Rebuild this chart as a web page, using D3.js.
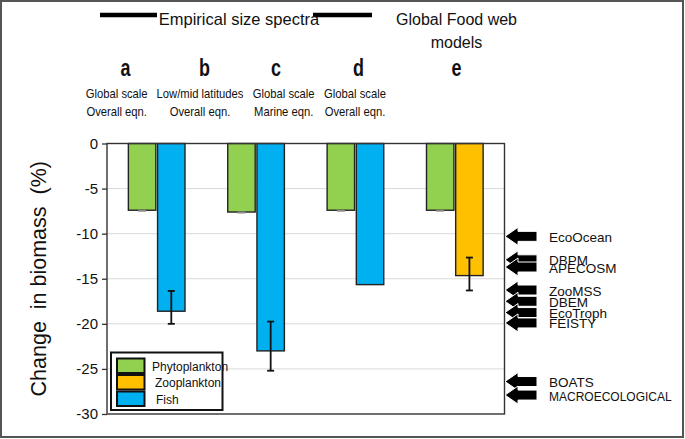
<!DOCTYPE html>
<html>
<head>
<meta charset="utf-8">
<script src="https://cdn.jsdelivr.net/npm/d3@7"></script>
<style>
  body { margin: 0; background: #fff; }
  svg { display: block; font-family: "Liberation Sans", Arial, sans-serif; }
</style>
</head>
<body>
<svg id="chart" width="685" height="439"></svg>
<script>
// --- DATEN ---
const groups = ['a', 'b', 'c', 'd'];
const groupLine1 = ['Global scale', 'Low/mid latitudes', 'Global scale', 'Global scale'];
const groupLine2 = ['Overall eqn.', 'Overall eqn.', 'Marine eqn.', 'Overall eqn.'];
const phytoValues = [-7.4, -7.6, -7.4, -7.4];
const secondValues = [-18.6, -23.0, -15.65, -14.65];
const secondKind = ['Fish', 'Fish', 'Fish', 'Zooplankton'];
const secondErrHigh = [-16.35, -19.75, null, -12.65];
const secondErrLow = [-20.0, -25.2, null, -16.3];
const yTicks = [0, -5, -10, -15, -20, -25, -30];
const legendItems = ['Phytoplankton', 'Zooplankton', 'Fish'];
const modelNames = ['EcoOcean', 'DBPM', 'APECOSM', 'ZooMSS', 'DBEM', 'EcoTroph', 'FEISTY', 'BOATS', 'MACROECOLOGICAL'];
const modelValues = [-10.3, -12.9, -13.7, -16.25, -17.5, -18.75, -19.9, -26.4, -27.9];

const colors = { Phytoplankton: '#92d050', Zooplankton: '#ffc000', Fish: '#00b0f0' };

// --- LAYOUT ---
const plot = { left: 107, right: 504.5, top: 143.5, bottom: 414 };
const svg = d3.select('#chart');

svg.append('rect')
  .attr('x', 1).attr('y', 1).attr('width', 682).attr('height', 436)
  .attr('fill', 'none').attr('stroke', '#555').attr('stroke-width', 2);

const x = d3.scaleBand().domain(groups).range([plot.left, plot.right])
  .paddingInner(0.43).paddingOuter(0.215);
const xs = d3.scaleBand().domain([0, 1]).range([0, x.bandwidth()]).paddingInner(0.06);
const y = d3.scaleLinear().domain([0, -30]).range([plot.top, plot.bottom]);

// Gitterlinien
svg.append('g')
  .selectAll('line')
  .data(yTicks.filter(t => t !== 0 && t !== -30))
  .join('line')
  .attr('x1', plot.left).attr('x2', plot.right)
  .attr('y1', d => y(d)).attr('y2', d => y(d))
  .attr('stroke', '#d9d9d9').attr('stroke-width', 1);

// Y-Achse
const yAxis = svg.append('g')
  .attr('transform', `translate(${plot.left},0)`)
  .call(d3.axisLeft(y).tickValues(yTicks).tickSize(5).tickPadding(4).tickFormat(d3.format('d')));
yAxis.select('.domain').remove();
yAxis.selectAll('.tick line').attr('stroke', '#333').attr('stroke-width', 1.3);
yAxis.selectAll('.tick text')
  .attr('font-size', 15).attr('fill', '#111')
  .attr('font-family', '"Liberation Sans", Arial, sans-serif')
  .text(d => d === 0 ? '0' : String(d));

// Balken
const bars = [];
groups.forEach((g, i) => {
  bars.push({ g, slot: 0, value: phytoValues[i], kind: 'Phytoplankton' });
  bars.push({ g, slot: 1, value: secondValues[i], kind: secondKind[i], hi: secondErrHigh[i], lo: secondErrLow[i] });
});

svg.append('g')
  .selectAll('rect')
  .data(bars)
  .join('rect')
  .attr('x', d => x(d.g) + xs(d.slot))
  .attr('y', y(0))
  .attr('width', xs.bandwidth())
  .attr('height', d => y(d.value) - y(0))
  .attr('fill', d => colors[d.kind])
  .attr('stroke', '#222').attr('stroke-width', 1.4);

// kleine graue Markierung am Ende der Phyto-Balken
svg.append('g')
  .selectAll('line')
  .data(bars.filter(d => d.slot === 0))
  .join('line')
  .attr('x1', d => x(d.g) + xs(d.slot) + xs.bandwidth() / 2 - 4)
  .attr('x2', d => x(d.g) + xs(d.slot) + xs.bandwidth() / 2 + 4)
  .attr('y1', d => y(d.value) + 0.5).attr('y2', d => y(d.value) + 0.5)
  .attr('stroke', '#8c8c8c').attr('stroke-width', 2);

// Fehlerbalken
const errs = bars.filter(d => d.hi != null);
const eg = svg.append('g').attr('stroke', '#111').attr('stroke-width', 1.8);
const cx = d => x(d.g) + xs(d.slot) + xs.bandwidth() / 2;
eg.selectAll('line.v').data(errs).join('line').attr('class', 'v')
  .attr('x1', cx).attr('x2', cx).attr('y1', d => y(d.hi)).attr('y2', d => y(d.lo));
eg.selectAll('line.t').data(errs).join('line').attr('class', 't')
  .attr('x1', d => cx(d) - 3.5).attr('x2', d => cx(d) + 3.5).attr('y1', d => y(d.hi)).attr('y2', d => y(d.hi));
eg.selectAll('line.b').data(errs).join('line').attr('class', 'b')
  .attr('x1', d => cx(d) - 3.5).attr('x2', d => cx(d) + 3.5).attr('y1', d => y(d.lo)).attr('y2', d => y(d.lo));

// Rahmen des Plotbereichs
svg.append('rect')
  .attr('x', plot.left).attr('y', plot.top)
  .attr('width', plot.right - plot.left).attr('height', plot.bottom - plot.top)
  .attr('fill', 'none').attr('stroke', '#333').attr('stroke-width', 1.4);

// Y-Achsentitel
svg.append('text')
  .attr('transform', `translate(46,${(plot.top + plot.bottom) / 2}) rotate(-90)`)
  .attr('text-anchor', 'middle')
  .attr('font-size', 21.5).attr('fill', '#111')
  .style('white-space', 'pre')
  .text('Change  in biomass  (%)');

// Legende
const lg = svg.append('g').attr('transform', 'translate(111,352.5)');
lg.append('rect').attr('width', 111.5).attr('height', 57.5)
  .attr('fill', '#fff').attr('stroke', '#111').attr('stroke-width', 2);
lg.selectAll('rect.sw').data(legendItems).join('rect').attr('class', 'sw')
  .attr('x', 6).attr('y', (d, i) => 6 + i * 16.5)
  .attr('width', 27.5).attr('height', 14.5)
  .attr('fill', d => colors[d]).attr('stroke', '#111').attr('stroke-width', 2);
lg.selectAll('text').data(legendItems).join('text')
  .attr('x', (d, i) => [41, 44, 45][i])
  .attr('y', (d, i) => 18 + i * 16.5)
  .attr('font-size', 12).attr('fill', '#111')
  .text(d => d);

// Modellpfeile rechts
const arrow = (tipX, cy) => {
  const headL = 13, headH = 9, shaftH = 5, len = 32;
  return `M${tipX},${cy} L${tipX + headL},${cy - headH} L${tipX + headL},${cy - shaftH} L${tipX + len},${cy - shaftH} ` +
    `L${tipX + len},${cy + shaftH} L${tipX + headL},${cy + shaftH} L${tipX + headL},${cy + headH} Z`;
};
const mg = svg.append('g');
mg.selectAll('path').data(modelValues).join('path')
  .attr('d', d => arrow(plot.right + 0.5, y(d)))
  .attr('fill', '#000').attr('stroke', '#fff').attr('stroke-width', 1);
mg.selectAll('text').data(modelNames).join('text')
  .attr('x', 549)
  .attr('y', (d, i) => y(modelValues[i]) + 5.5)
  .attr('font-size', d => d === 'MACROECOLOGICAL' ? 12 : 13.5)
  .attr('fill', '#111')
  .text(d => d);

// Kopfzeilen
const head = svg.append('g').attr('fill', '#111');
head.append('line').attr('x1', 100).attr('x2', 157).attr('y1', 15).attr('y2', 15)
  .attr('stroke', '#000').attr('stroke-width', 4.5);
head.append('line').attr('x1', 313).attr('x2', 372).attr('y1', 15).attr('y2', 15)
  .attr('stroke', '#000').attr('stroke-width', 4.5);
head.append('text').attr('x', 239).attr('y', 25).attr('text-anchor', 'middle')
  .attr('font-size', 16.5).text('Empirical size spectra');
head.append('text').attr('x', 456.5).attr('y', 25).attr('text-anchor', 'middle')
  .attr('font-size', 16).text('Global Food web');
head.append('text').attr('x', 456.5).attr('y', 48).attr('text-anchor', 'middle')
  .attr('font-size', 16).text('models');

const letterX = [125.5, 204.5, 276, 358.5, 456.5];
const sub1X = [116.7, 200, 283.7, 355];
['a', 'b', 'c', 'd', 'e'].forEach((l, i) => {
  head.append('text')
    .attr('transform', `translate(${letterX[i]},76) scale(0.78,1)`)
    .attr('text-anchor', 'middle').attr('font-weight', 'bold')
    .attr('font-size', 23).text(l);
});
groups.forEach((g, i) => {
  [groupLine1[i], groupLine2[i]].forEach((t, j) => {
    head.append('text')
      .attr('transform', `translate(${sub1X[i]},${98 + j * 18}) scale(0.9,1)`)
      .attr('text-anchor', 'middle').attr('font-size', 12.5).text(t);
  });
});
</script>
</body>
</html>
